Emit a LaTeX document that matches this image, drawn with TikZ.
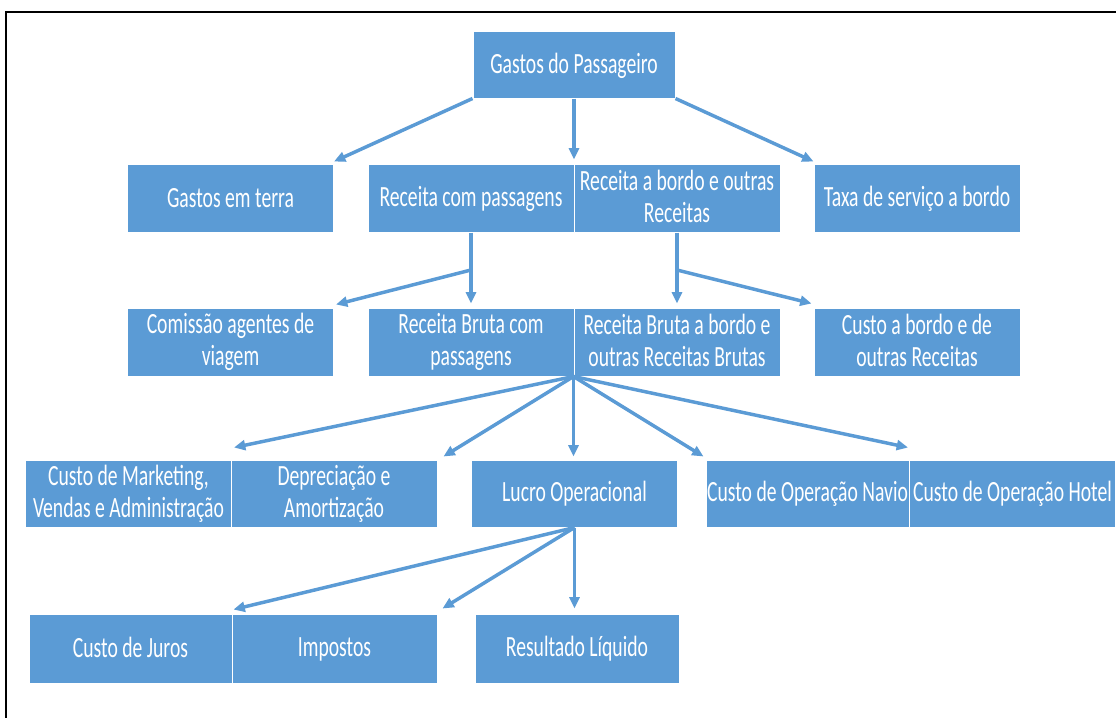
\documentclass[tikz,border=0pt]{standalone}
\usepackage{fontspec}
\newfontfamily\boxfont[FakeStretch=0.67]{Carlito}
\usetikzlibrary{arrows.meta,calc}
\definecolor{boxblue}{HTML}{5B9BD5}
\definecolor{arrblue}{HTML}{5B9BD5}
\newcommand\mystrutbox{\rule[-2pt]{0pt}{18pt}}
\begin{document}
\begin{tikzpicture}[x=0.75pt,y=-0.75pt,
  bx/.style={fill=boxblue,draw=white,line width=0.75pt,text=white,
    font=\boxfont\fontsize{22}{24}\selectfont,align=center,inner sep=0pt,
    minimum width=154.5pt,minimum height=51pt,
    execute at begin node={\mystrutbox},execute at end node={\mystrutbox}},
  arr/.style={draw=arrblue,line width=2.6pt,-{Triangle[length=8.5pt,width=7.5pt]}},
  frame/.style={draw=black,line width=1.6pt}]
\useasboundingbox (0,0) rectangle (1116,717);
\clip (0,0) rectangle (1116,717);
\fill[white] (0,0) rectangle (1116,717);
\draw[frame] (6,730) -- (6,12) -- (1130,12);
% nodes
\node[bx,minimum width=151.5pt,minimum height=49.5pt] (top) at (574,65) {Gastos do Passageiro};
\node[bx] (gt)   at (230.5,198) {Gastos em terra};
\node[bx] (rcp)  at (471,198)   {Receita com passagens};
\node[bx] (rab)  at (677,198)   {Receita a bordo e outras\\Receitas};
\node[bx] (taxa) at (917,198)   {Taxa de serviço a bordo};
\node[bx] (com)  at (230.5,342) {Comissão agentes de\\viagem};
\node[bx] (rbp)  at (471,342)   {Receita Bruta com\\passagens};
\node[bx] (rbab) at (677,342)   {Receita Bruta a bordo e\\outras Receitas Brutas};
\node[bx] (cab)  at (917,342)   {Custo a bordo e de\\outras Receitas};
\node[bx,minimum height=50.25pt] (mkt)   at (128.5,493.5) {Custo de Marketing,\\Vendas e Administração};
\node[bx,minimum height=50.25pt] (dep)   at (334,493.5)   {Depreciação e\\Amortização};
\node[bx,minimum height=50.25pt] (lucro) at (574.5,493.5) {Lucro Operacional};
\node[bx,minimum height=50.25pt,minimum width=152.25pt] (navio) at (807.5,493.5) {Custo de Operação Navio};
\node[bx,minimum height=50.25pt] (hotel) at (1012.5,493.5) {Custo de Operação Hotel};
\node[bx,minimum height=51.75pt,minimum width=152.25pt] (juros) at (130.5,648.5) {Custo de Juros};
\node[bx,minimum height=51.75pt,minimum width=153.75pt] (imp)   at (334.5,648.5) {Impostos};
\node[bx,minimum height=51.75pt,minimum width=153pt] (res)   at (577,648.5)   {Resultado Líquido};
% connectors
\draw[arr] (top.south west) -- ($(gt.north east)+(0,-2)$);
\draw[arr] (top.south) -- ($(top.south |- rcp.north)+(0,-4)$);
\draw[arr] (top.south east) -- ($(taxa.north west)+(0,-2)$);
\coordinate (j1) at ($(rcp.south)!0.5!(rbp.north)$);
\coordinate (j2) at ($(rab.south)!0.5!(rbab.north)$);
\draw[arr] (rcp.south) -- ($(rbp.north)+(0,-4)$);
\draw[arr] (j1) -- ($(com.north east)+(2,-3)$);
\draw[arr] (rab.south) -- ($(rbab.north)+(0,-4)$);
\draw[arr] (j2) -- ($(cab.north west)+(-2,-4)$);
\draw[arr] (rbab.south west) -- ($(mkt.north east)+(2,-12)$);
\draw[arr] (rbab.south west) -- ($(dep.north east)+(6,-3)$);
\draw[arr] (rbab.south west) -- ($(rbab.south west |- lucro.north)+(0,-3)$);
\draw[arr] (rbab.south west) -- ($(navio.north west)+(-2,-3)$);
\draw[arr] (rbab.south west) -- ($(hotel.north west)+(-1,-12)$);
\draw[arr] (lucro.south) -- ($(juros.north east)+(1,-4)$);
\draw[arr] (lucro.south) -- ($(imp.north east)+(5,-5)$);
\draw[arr] (lucro.south) -- ($(lucro.south |- res.north)+(0,-5)$);
\end{tikzpicture}
\end{document}
